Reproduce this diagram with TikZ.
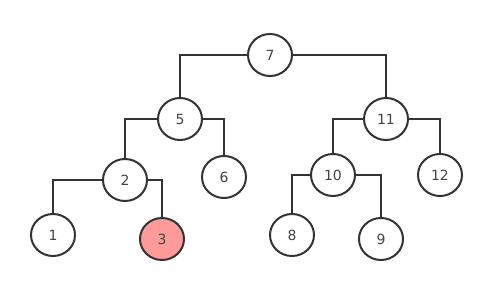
\documentclass[tikz,border=0pt]{standalone}
\usepackage{fontspec}
\setmainfont{DejaVu Sans}
\usetikzlibrary{shapes.geometric}
\definecolor{edge}{HTML}{333333}
\definecolor{txt}{HTML}{444444}
\definecolor{hl}{HTML}{FF9A9A}
\begin{document}
\begin{tikzpicture}[x=1pt,y=-1pt,
  tnode/.style={ellipse,draw=edge,line width=2pt,fill=white,minimum width=44pt,minimum height=42pt,inner sep=0pt,text=txt,font=\fontsize{14}{16}\selectfont},
  hot/.style={tnode,fill=hl},
  link/.style={draw=edge,line width=2pt}]
\useasboundingbox (0,0) rectangle (491,290);
\node[tnode] (n7) at (270,55) {7};
\node[tnode] (n5) at (180,119) {5};
\node[tnode] (n11) at (386,119) {11};
\node[tnode] (n2) at (125,180) {2};
\node[tnode] (n6) at (224,177) {6};
\node[tnode] (n10) at (333,175) {10};
\node[tnode] (n12) at (440,175) {12};
\node[tnode] (n1) at (53,235) {1};
\node[hot] (n3) at (162,239) {3};
\node[tnode] (n8) at (292,235) {8};
\node[tnode] (n9) at (381,239) {9};
\draw[link] (n7.west) -| (n5.north);
\draw[link] (n7.east) -| (n11.north);
\draw[link] (n5.west) -| (n2.north);
\draw[link] (n5.east) -| (n6.north);
\draw[link] (n2.west) -| (n1.north);
\draw[link] (n2.east) -| (n3.north);
\draw[link] (n11.west) -| (n10.north);
\draw[link] (n11.east) -| (n12.north);
\draw[link] (n10.west) -| (n8.north);
\draw[link] (n10.east) -| (n9.north);
\end{tikzpicture}
\end{document}
